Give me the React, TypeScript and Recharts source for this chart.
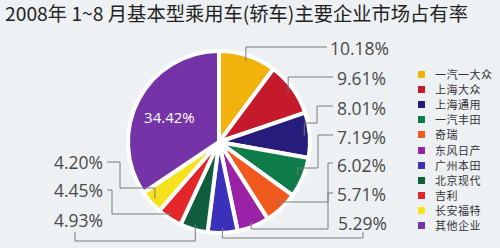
import { Cell, Legend, Pie, PieChart } from "recharts";

const companies = [
  "一汽一大众",
  "上海大众",
  "上海通用",
  "一汽丰田",
  "奇瑞",
  "东风日产",
  "广州本田",
  "北京现代",
  "吉利",
  "长安福特",
  "其他企业",
];
const shares = [10.18, 9.61, 8.01, 7.19, 6.02, 5.71, 5.29, 4.93, 4.45, 4.2, 34.42];
const shareLabels = ["10.18%", "9.61%", "8.01%", "7.19%", "6.02%", "5.71%", "5.29%", "4.93%", "4.45%", "4.20%", "34.42%"];

const colors = [
  "#f2b20c",
  "#c41a2c",
  "#261c7c",
  "#0e7c48",
  "#f05a1e",
  "#9a22a6",
  "#3a30ba",
  "#0f5d3c",
  "#e2262a",
  "#f6e21c",
  "#7434a8",
];

// label placement: text position, leader line elbows
type LabelLayout = {
  tx: number;
  ty: number;
  anchor: "start" | "end" | "middle";
  midY?: number;
  elbowX?: number;
  lineY?: number;
  endX?: number;
  inside?: boolean;
};

const labelLayout: LabelLayout[] = [
  { tx: 330, ty: 48, anchor: "start", lineY: 47, endX: 327 },
  { tx: 337, ty: 78, anchor: "start", lineY: 77, endX: 333 },
  { tx: 337, ty: 108, anchor: "start", midY: 123, elbowX: 317, lineY: 106, endX: 333 },
  { tx: 337, ty: 137, anchor: "start", midY: 168, elbowX: 318, lineY: 135, endX: 333 },
  { tx: 337, ty: 165, anchor: "start", midY: 202, elbowX: 328, lineY: 163, endX: 333 },
  { tx: 337, ty: 194, anchor: "start", midY: 229, elbowX: 328, lineY: 193, endX: 333 },
  { tx: 338, ty: 223, anchor: "start", midY: 238, elbowX: 363, lineY: 232, endX: 363 },
  { tx: 103, ty: 220, anchor: "end", midY: 241, elbowX: 75, lineY: 232, endX: 75 },
  { tx: 103, ty: 190, anchor: "end", midY: 214, elbowX: 112, lineY: 190, endX: 107 },
  { tx: 103, ty: 162, anchor: "end", midY: 188, elbowX: 120, lineY: 162, endX: 107 },
  { tx: 0, ty: 0, anchor: "middle", inside: true },
];

const data = companies.map((name, i) => ({ name, value: shares[i] }));

const RADIAN = Math.PI / 180;

function renderLabel(props: any) {
  const { cx, cy, midAngle, outerRadius, index } = props;
  const lay = labelLayout[index];
  const text = shareLabels[index];
  if (lay.inside) {
    const r = outerRadius * 0.58;
    const x = cx + r * Math.cos(-midAngle * RADIAN);
    const y = cy + r * Math.sin(-midAngle * RADIAN);
    return (
      <text
        x={x - 3}
        y={y}
        fill="#ffffff"
        fontSize={15}
        fontFamily="'Open Sans', sans-serif"
        textAnchor="middle"
        dominantBaseline="central"
      >
        {text}
      </text>
    );
  }
  const r = outerRadius * 0.94;
  const sx = cx + r * Math.cos(-midAngle * RADIAN);
  const sy = cy + r * Math.sin(-midAngle * RADIAN);
  const midY = lay.midY ?? sy;
  const elbowX = lay.elbowX ?? sx;
  const lineY = lay.lineY ?? midY;
  const endX = lay.endX ?? elbowX;
  const pts = [
    [sx, sy],
    [sx, midY],
    [elbowX, midY],
    [elbowX, lineY],
    [endX, lineY],
  ]
    .map((p) => p.join(","))
    .join(" ");
  return (
    <g>
      <polyline points={pts} fill="none" stroke="#7a7a7a" strokeWidth={1} />
      <text
        x={lay.tx}
        y={lay.ty}
        fill="#4a4a4a"
        fontSize={17.5}
        fontFamily="'Open Sans', sans-serif"
        textAnchor={lay.anchor}
        dominantBaseline="central"
      >
        {text}
      </text>
    </g>
  );
}

function LegendList(props: any) {
  const items = [...(props.payload || [])].sort(
    (a: any, b: any) => companies.indexOf(a.value) - companies.indexOf(b.value)
  );
  return (
    <div>
      {items.map((item: any, i: number) => (
        <div
          key={i}
          style={{
            display: "flex",
            alignItems: "center",
            height: 15.1,
            overflow: "hidden",
          }}
        >
          <span
            style={{
              width: 7,
              height: 7,
              background: item.color,
              marginRight: 10,
              display: "inline-block",
              flex: "none",
            }}
          />
          <span
            style={{
              fontFamily: "'Noto Sans CJK SC', sans-serif",
              fontSize: 11,
              letterSpacing: 0.5,
              color: "#333",
              lineHeight: "13px",
            }}
          >
            {item.value}
          </span>
        </div>
      ))}
    </div>
  );
}

export default function App() {
  return (
    <div
      style={{
        position: "fixed",
        left: 0,
        top: 0,
        width: 500,
        height: 248,
        background: "#eef1f3",
        overflow: "hidden",
      }}
    >
      <div
        style={{
          position: "absolute",
          left: 5,
          top: 3,
          fontFamily: "'Noto Sans CJK SC', sans-serif",
          fontSize: 19.3,
          lineHeight: "20px",
          color: "#222",
          whiteSpace: "nowrap",
        }}
      >
        2008年 1~8 月基本型乘用车(轿车)主要企业市场占有率
      </div>
      <PieChart width={500} height={248} style={{ position: "absolute", left: 0, top: 0 }}>
        <Pie
          data={data}
          dataKey="value"
          nameKey="name"
          cx={214}
          cy={137}
          outerRadius={91}
          startAngle={90}
          endAngle={-270}
          stroke="#ffffff"
          strokeWidth={4}
          label={renderLabel}
          labelLine={false}
          isAnimationActive={false}
        >
          {data.map((d, i) => (
            <Cell key={d.name} fill={colors[i]} />
          ))}
        </Pie>
        <Legend
          layout="vertical"
          align="right"
          verticalAlign="top"
          itemSorter={null}
          content={<LegendList />}
          wrapperStyle={{ left: 418, top: 67, width: 82 }}
        />
      </PieChart>
    </div>
  );
}
